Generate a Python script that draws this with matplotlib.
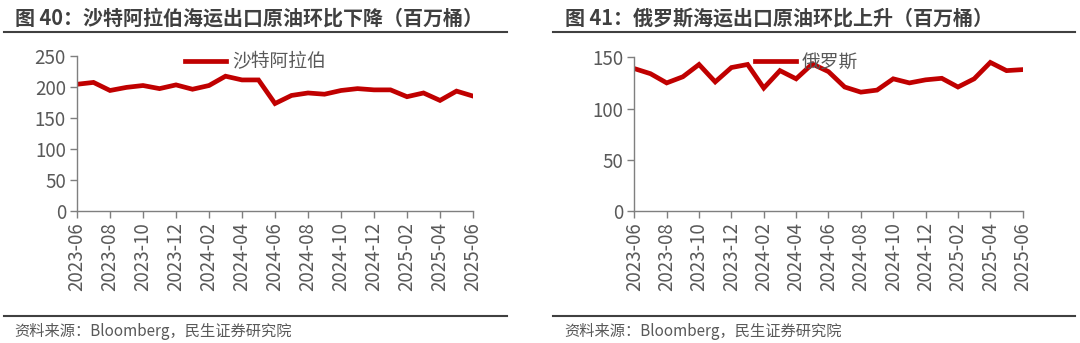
import numpy as np
import matplotlib
matplotlib.use('Agg')
import matplotlib.pyplot as plt
from matplotlib.lines import Line2D

plt.rcParams['font.family'] = ['Noto Sans CJK SC', 'DejaVu Sans']

# 月份（2023-06 ~ 2025-06）
months = ['2023-06', '2023-07', '2023-08', '2023-09', '2023-10', '2023-11', '2023-12',
          '2024-01', '2024-02', '2024-03', '2024-04', '2024-05', '2024-06', '2024-07',
          '2024-08', '2024-09', '2024-10', '2024-11', '2024-12', '2025-01', '2025-02',
          '2025-03', '2025-04', '2025-05', '2025-06']

# 沙特阿拉伯海运出口原油（百万桶）
saudi = [204, 207, 194, 199, 202, 197, 203, 196, 202, 217, 211, 211, 173,
         186, 190, 188, 194, 197, 195, 195, 184, 190, 178, 193, 185]

# 俄罗斯海运出口原油（百万桶）
russia = [139, 134, 125, 131, 143, 126, 140, 143, 120, 137, 129, 143.5, 136,
          121, 116, 118, 129, 125, 128, 129.5, 121, 129, 145, 137, 138]

W, H = 1080, 343
red = '#C00000'
gray = '#595959'
dark = '#404040'


def px(x0, y0, x1, y1):
    # 像素坐标 -> figure 坐标
    return [x0 / W, 1 - y1 / H, (x1 - x0) / W, (y1 - y0) / H]


fig = plt.figure(figsize=(W / 100, H / 100), dpi=100)


def draw(rect, values, ymax, label, title, tx, line_x, leg_x):
    ax = fig.add_axes(px(*rect))
    x = np.arange(len(months))
    ax.plot(x, values, color=red, linewidth=3.4, label=label, solid_joinstyle='miter')
    ax.set_xlim(0, len(months) - 1)
    ax.set_ylim(0, ymax)
    ax.set_yticks(np.arange(0, ymax + 1, 50))
    ax.set_xticks(x[::2])
    ax.set_xticklabels(months[::2], rotation=90)
    for s in ['top', 'right']:
        ax.spines[s].set_visible(False)
    for s in ['left', 'bottom']:
        ax.spines[s].set_color('#7f7f7f')
        ax.spines[s].set_linewidth(1.0)
    ax.tick_params(axis='both', colors='#7f7f7f', labelcolor=gray, labelsize=13.5,
                   length=5, width=1.0, direction='out', pad=3)
    ax.legend(loc='center left', bbox_to_anchor=(leg_x / W, 1 - 62 / H),
              bbox_transform=fig.transFigure, frameon=False, fontsize=13.5,
              handlelength=2.2, handletextpad=0.3, borderpad=0, borderaxespad=0,
              labelcolor=gray)

    fig.text(tx / W, 1 - 18 / H, title, fontsize=14.4, fontweight='bold', color=dark,
             va='center', ha='left')
    fig.add_artist(Line2D([line_x[0] / W, line_x[1] / W], [1 - 32 / H] * 2,
                          color=dark, linewidth=1.5))
    fig.add_artist(Line2D([line_x[0] / W, line_x[1] / W], [1 - 316 / H] * 2,
                          color=dark, linewidth=1.5))
    fig.text((tx - 1) / W, 1 - 331 / H, '资料来源：Bloomberg，民生证券研究院',
             fontsize=11, color=gray, va='center', ha='left')


draw((77, 55.7, 473, 211), saudi, 250, '沙特阿拉伯',
     '图 40：沙特阿拉伯海运出口原油环比下降（百万桶）', 15, (4, 507), 185)
draw((634.3, 57.3, 1022.7, 211), russia, 150, '俄罗斯',
     '图 41：俄罗斯海运出口原油环比上升（百万桶）', 565, (553, 1075), 755)

fig.savefig('out.png', dpi=100)
